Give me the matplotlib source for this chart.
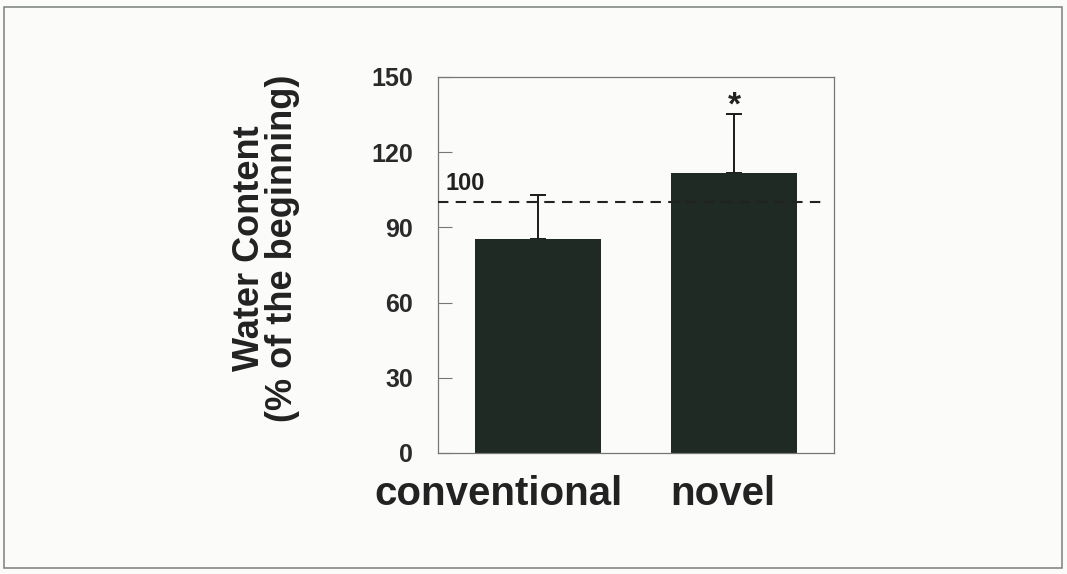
import numpy as np
import matplotlib.pyplot as plt
from matplotlib.patches import Rectangle
from matplotlib.transforms import ScaledTranslation

plt.rcParams['font.family'] = ['Liberation Sans', 'DejaVu Sans']

# dados
groups = ['conventional', 'novel']
water = [85.4, 111.7]
err_up = [17.5, 23.5]
ref_level = 100
y_ticks = [0, 30, 60, 90, 120, 150]

fig = plt.figure(figsize=(10.67, 5.74), dpi=100)
fig.patch.set_facecolor('#fbfbfa')

# moldura externa (scan)
fig.add_artist(Rectangle((4 / 1067, 6 / 574), 1058 / 1067, 561 / 574,
                         transform=fig.transFigure, fill=False,
                         edgecolor='#7a807c', lw=1.1))

ax = fig.add_axes([438 / 1067, 1 - 453 / 574, 396 / 1067, 376 / 574])
ax.set_facecolor('#fbfbfa')

x = np.arange(len(groups))
ax.bar(x, water, width=0.64, color='#1f2a25', zorder=2)
ax.errorbar(x, water, yerr=[np.zeros(len(x)), err_up], fmt='none',
            ecolor='#1a1a1a', elinewidth=1.4, capsize=6, capthick=1.4, zorder=1.5)

# linha de referencia 100%
ax.plot([-0.51, 1.47], [ref_level, ref_level], ls=(0, (5, 3.5)), color='#222222',
        lw=1.5, zorder=4)
ax.text(-0.47, ref_level + 3, str(ref_level), fontsize=17, fontweight='bold',
        color='#222222', ha='left', va='bottom')

# asterisco de significancia
ax.text(x[1], water[1] + err_up[1] - 3, '*', fontsize=24, fontweight='bold',
        ha='center', va='bottom', color='#222222')

ax.set_xlim(-0.51, 1.51)
ax.set_ylim(0, 150)
ax.set_yticks(y_ticks)
ax.set_yticklabels([str(v) for v in y_ticks], fontsize=18, fontweight='bold',
                   color='#2a2a2a')
ax.tick_params(axis='y', direction='in', length=10, width=0.8, pad=18, colors='#777777',
               labelcolor='#2a2a2a')
ax.set_xticks(x)
ax.set_xticklabels(groups, fontsize=29, fontweight='bold', color='#222222')
ax.tick_params(axis='x', length=0, pad=16)
offsets = [-39, -11]
for lab, dx in zip(ax.get_xticklabels(), offsets):
    lab.set_transform(lab.get_transform() + ScaledTranslation(dx / 100, 0, fig.dpi_scale_trans))

for s in ax.spines.values():
    s.set_color('#777777')
    s.set_linewidth(0.9)

# titulo do eixo y
fig.text(266 / 1067, 1 - 248 / 574, 'Water Content\n(% of the beginning)', fontsize=26,
         fontweight='bold', color='#222222', rotation=90, ha='center', va='center',
         linespacing=0.95, multialignment='center')

fig.savefig('out.png', dpi=100, facecolor=fig.get_facecolor())
